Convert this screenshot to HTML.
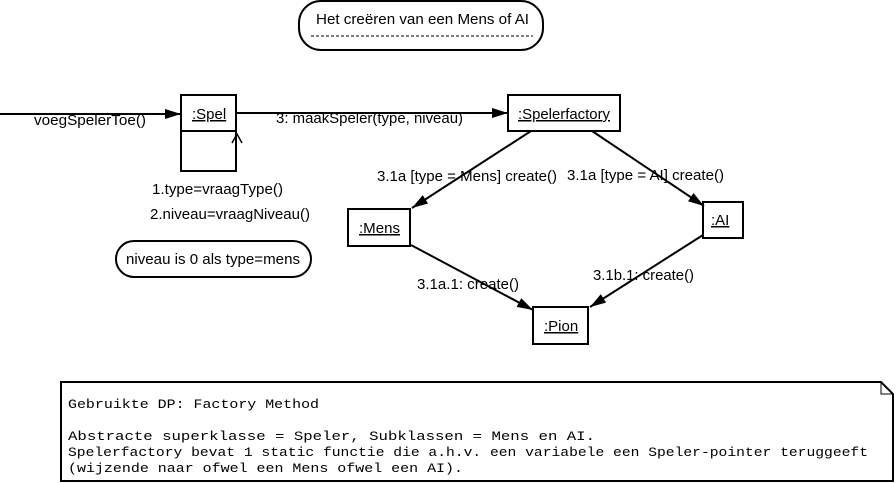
<!DOCTYPE html>
<html><head><meta charset="utf-8"><style>
html,body{margin:0;padding:0;background:#fff;width:896px;height:483px;overflow:hidden}
svg text{font-family:"Liberation Sans",Arial,sans-serif;font-size:15px;fill:#000}
svg text.m{font-family:"Liberation Mono","Courier New",monospace;font-size:13px}
</style></head><body>
<svg width="896" height="483" viewBox="0 0 896 483" xmlns="http://www.w3.org/2000/svg">
<defs>
<marker id="a" viewBox="0 0 16 10" refX="16" refY="5" markerWidth="16" markerHeight="10" orient="auto" markerUnits="userSpaceOnUse"><path d="M0,0 L16,5 L0,10 z" fill="#000"/></marker>
</defs>
<g stroke="#000" stroke-width="2" fill="none">
<rect x="299" y="1" width="244" height="49" rx="22" fill="#fff"/>
<line x1="311" y1="36" x2="533" y2="36" stroke-width="1" stroke-dasharray="3,2"/>
<rect x="181" y="95" width="55" height="76" fill="#fff"/>
<line x1="181" y1="131" x2="236" y2="131"/>
<rect x="508" y="95" width="112" height="36" fill="#fff"/>
<rect x="348" y="209" width="62" height="37" fill="#fff"/>
<rect x="703" y="202" width="40" height="36" fill="#fff"/>
<rect x="533" y="307" width="55" height="37" fill="#fff"/>
<rect x="116" y="241" width="195" height="36" rx="18" fill="#fff"/>
<line x1="0" y1="114" x2="181" y2="114" marker-end="url(#a)"/>
<line x1="236" y1="113" x2="508" y2="113" marker-end="url(#a)"/>
<polyline points="232,143 237,134 242,143" stroke-width="1.5"/>
<line x1="531" y1="131" x2="412" y2="208" marker-end="url(#a)"/>
<line x1="592" y1="131" x2="704" y2="206" marker-end="url(#a)"/>
<line x1="411" y1="245" x2="533" y2="310" marker-end="url(#a)"/>
<line x1="703" y1="235" x2="590" y2="307" marker-end="url(#a)"/>
<path d="M61,382 H881 L893,394 V481 H61 Z" fill="#fff"/>
<path d="M881,382 V394 H893" stroke-width="1"/>
</g>
<text x="316" y="24" textLength="213" lengthAdjust="spacingAndGlyphs">Het creëren van een Mens of AI</text>
<text x="34" y="125" textLength="112" lengthAdjust="spacingAndGlyphs">voegSpelerToe()</text>
<text x="192" y="119" text-decoration="underline">:Spel</text>
<text x="276" y="123" textLength="187" lengthAdjust="spacingAndGlyphs">3: maakSpeler(type, niveau)</text>
<text x="518" y="119" text-decoration="underline" textLength="92" lengthAdjust="spacingAndGlyphs">:Spelerfactory</text>
<text x="152" y="194" textLength="131" lengthAdjust="spacingAndGlyphs">1.type=vraagType()</text>
<text x="150" y="219" textLength="160" lengthAdjust="spacingAndGlyphs">2.niveau=vraagNiveau()</text>
<text x="126" y="264" textLength="174" lengthAdjust="spacingAndGlyphs">niveau is 0 als type=mens</text>
<text x="377" y="181" textLength="180" lengthAdjust="spacingAndGlyphs">3.1a [type = Mens] create()</text>
<text x="567" y="180" textLength="157" lengthAdjust="spacingAndGlyphs">3.1a [type = AI] create()</text>
<text x="359" y="233" text-decoration="underline" textLength="41" lengthAdjust="spacingAndGlyphs">:Mens</text>
<text x="711" y="225" text-decoration="underline">:AI</text>
<text x="417" y="289" textLength="102" lengthAdjust="spacingAndGlyphs">3.1a.1: create()</text>
<text x="593" y="280" textLength="101" lengthAdjust="spacingAndGlyphs">3.1b.1: create()</text>
<text x="544" y="331" text-decoration="underline">:Pion</text>
<text class="m" x="68" y="408" textLength="251" lengthAdjust="spacingAndGlyphs">Gebruikte DP: Factory Method</text>
<text class="m" x="68" y="440" textLength="527" lengthAdjust="spacingAndGlyphs">Abstracte superklasse = Speler, Subklassen = Mens en AI.</text>
<text class="m" x="68" y="456" textLength="800" lengthAdjust="spacingAndGlyphs">Spelerfactory bevat 1 static functie die a.h.v. een variabele een Speler-pointer teruggeeft</text>
<text class="m" x="68" y="472" textLength="395" lengthAdjust="spacingAndGlyphs">(wijzende naar ofwel een Mens ofwel een AI).</text>
</svg>
</body></html>
